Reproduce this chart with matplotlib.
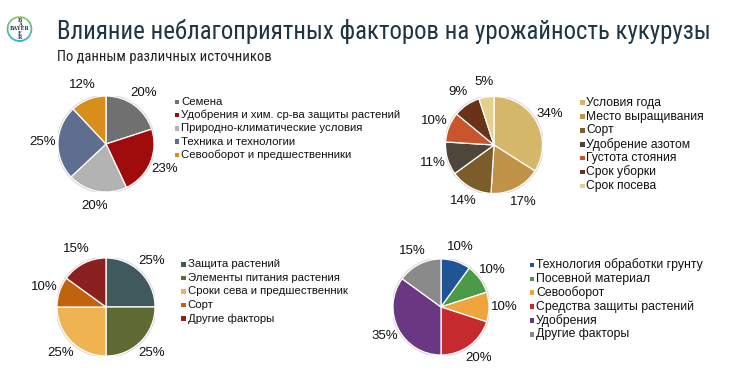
import matplotlib
matplotlib.use("Agg")
import matplotlib.pyplot as plt
from matplotlib import font_manager
from matplotlib.font_manager import FontProperties
from matplotlib.patches import Rectangle, Circle, Wedge
import numpy as np

# ---------------- data ----------------
title = "Влияние неблагоприятных факторов на урожайность кукурузы"
subtitle = "По данным различных источников"

labels1 = ["Семена", "Удобрения и хим. ср-ва защиты растений",
           "Природно-климатические условия", "Техника и технологии",
           "Севооборот и предшественники"]
values1 = [20, 23, 20, 25, 12]
colors1 = ["#707070", "#a00b0b", "#b3b3b3", "#5e6e8e", "#d98e1c"]

labels2 = ["Условия года", "Место выращивания", "Сорт", "Удобрение азотом",
           "Густота стояния", "Срок уборки", "Срок посева"]
values2 = [34, 17, 14, 11, 10, 9, 5]
colors2 = ["#d4b76a", "#c19348", "#7c5c2b", "#4c463b", "#c8552c", "#6a3219", "#e6cf8a"]

labels3 = ["Защита растений", "Элементы питания растения",
           "Сроки сева и предшественник", "Сорт", "Другие факторы"]
values3 = [25, 25, 25, 10, 15]
colors3 = ["#3f595d", "#5e6a32", "#f0b352", "#c1620f", "#8a2020"]

labels4 = ["Технология обработки грунту", "Посевной материал", "Севооборот",
           "Средства защиты растений", "Удобрения", "Другие факторы"]
values4 = [10, 10, 10, 20, 35, 15]
colors4 = ["#1f5495", "#4b9a45", "#f0a53c", "#c52a2e", "#6a3782", "#8a8a8a"]

# ---------------- fonts ----------------
available = {f.name for f in font_manager.fontManager.ttflist}
base_font = "Liberation Sans" if "Liberation Sans" in available else "DejaVu Sans"
plt.rcParams["font.family"] = [base_font, "DejaVu Sans"]

# look for a narrow / condensed face for the title
cands = []
for f in font_manager.fontManager.ttflist:
    nm = (f.name + " " + f.fname).lower()
    st = f.stretch
    is_cond = ("narrow" in nm or "condensed" in nm or
               (isinstance(st, str) and "condensed" in st) or
               (isinstance(st, (int, float)) and st < 500))
    if is_cond and f.style == "normal" and f.weight in (400, "normal", "regular"):
        pri = 0 if "liberation" in nm else (1 if "roboto" in nm else
              (2 if "open" in nm else (3 if "noto" in nm else 4)))
        if "dejavu" in nm:
            pri = 5
        if "mono" in nm or "serif" in nm:
            pri += 10
        cands.append((pri, f.fname))
if cands:
    cands.sort()
    narrow_fp = FontProperties(fname=cands[0][1])
else:
    narrow_fp = FontProperties(family=base_font)

W, H = 730, 378
fig = plt.figure(figsize=(W / 100, H / 100), dpi=100)
fig.patch.set_facecolor("white")

ov = fig.add_axes([0, 0, 1, 1])
ov.set_xlim(0, W)
ov.set_ylim(H, 0)
ov.axis("off")

renderer = fig.canvas.get_renderer()


def fit_text(x, y, s, size, target_w, color):
    fp = narrow_fp.copy()
    fp.set_size(size)
    t = ov.text(x, y, s, fontproperties=fp, color=color, va="center", ha="left")
    w = t.get_window_extent(renderer=renderer).width
    if w > target_w:
        fp.set_size(size * target_w / w)
        t.set_fontproperties(fp)
    return t


fit_text(57, 31, title, 20.5, 656, "#1e3545")
fit_text(57, 57, subtitle, 10.5, 215, "#222222")

# Bayer-like logo
lcx, lcy, lr = 19.5, 29, 12.8
n = 24
c1 = np.array([0x89, 0xc5, 0x3f]) / 255
c2 = np.array([0x10, 0xa8, 0xe0]) / 255
for side in (0, 1):
    for i in range(n):
        t = i / (n - 1)
        col = c1 * (1 - t) + c2 * t
        if side == 0:
            a0, a1 = -90 + 180 * i / n, -90 + 180 * (i + 1) / n + 0.5
        else:
            a0, a1 = 270 - 180 * (i + 1) / n - 0.5, 270 - 180 * i / n
        ov.add_patch(Wedge((lcx, lcy), lr, a0, a1, width=1.7, color=col, lw=0))
ov.text(lcx, lcy, "BAYER", fontsize=3.6, ha="center", va="center",
        color="#1d3c55", fontweight="bold", family="DejaVu Serif")
for k, ch in enumerate("BAYER"):
    if k == 2:
        continue
    ov.text(lcx, lcy + (k - 2) * 4.3, ch, fontsize=3.6, ha="center", va="center",
            color="#1d3c55", fontweight="bold", family="DejaVu Serif")


def draw_pie(values, colors, cx, cy, r, pctdist=1.32):
    ax = fig.add_axes([(cx - r) / W, 1 - (cy + r) / H, 2 * r / W, 2 * r / H])
    ax.add_patch(Circle((0, 0), 1.0, facecolor="none", edgecolor="#d6d6d6",
                        lw=2.2, zorder=0))
    ax.pie(values, colors=colors, startangle=90, counterclock=False, radius=1.0,
           autopct=lambda p: f"{p:.0f}%", pctdistance=pctdist,
           wedgeprops=dict(edgecolor="white", linewidth=0.9),
           textprops=dict(fontsize=9.5, color="#111111"))
    ax.set_xlim(-1, 1)
    ax.set_ylim(-1, 1)
    ax.set_aspect("auto")
    ax.axis("off")
    return ax


def draw_legend(labels, colors, x, y0, dy, fs):
    for i, (lab, col) in enumerate(zip(labels, colors)):
        y = y0 + i * dy
        ov.add_patch(Rectangle((x, y - 2.3), 4.6, 4.6, facecolor=col, lw=0))
        ov.text(x + 6.5, y, lab, fontsize=fs, va="center", ha="left",
                color="#111111")


draw_pie(values1, colors1, 106, 144, 48)
draw_legend(labels1, colors1, 174.5, 102, 13.2, 8.2)

draw_pie(values2, colors2, 494, 145, 48.5)
draw_legend(labels2, colors2, 580, 102.7, 13.85, 8.7)

draw_pie(values3, colors3, 106, 307, 49)
draw_legend(labels3, colors3, 181, 264.3, 13.5, 8.2)

draw_pie(values4, colors4, 441, 307, 48)
draw_legend(labels4, colors4, 529.5, 265, 13.85, 8.85)

fig.savefig("out.png", dpi=100, facecolor="white")
